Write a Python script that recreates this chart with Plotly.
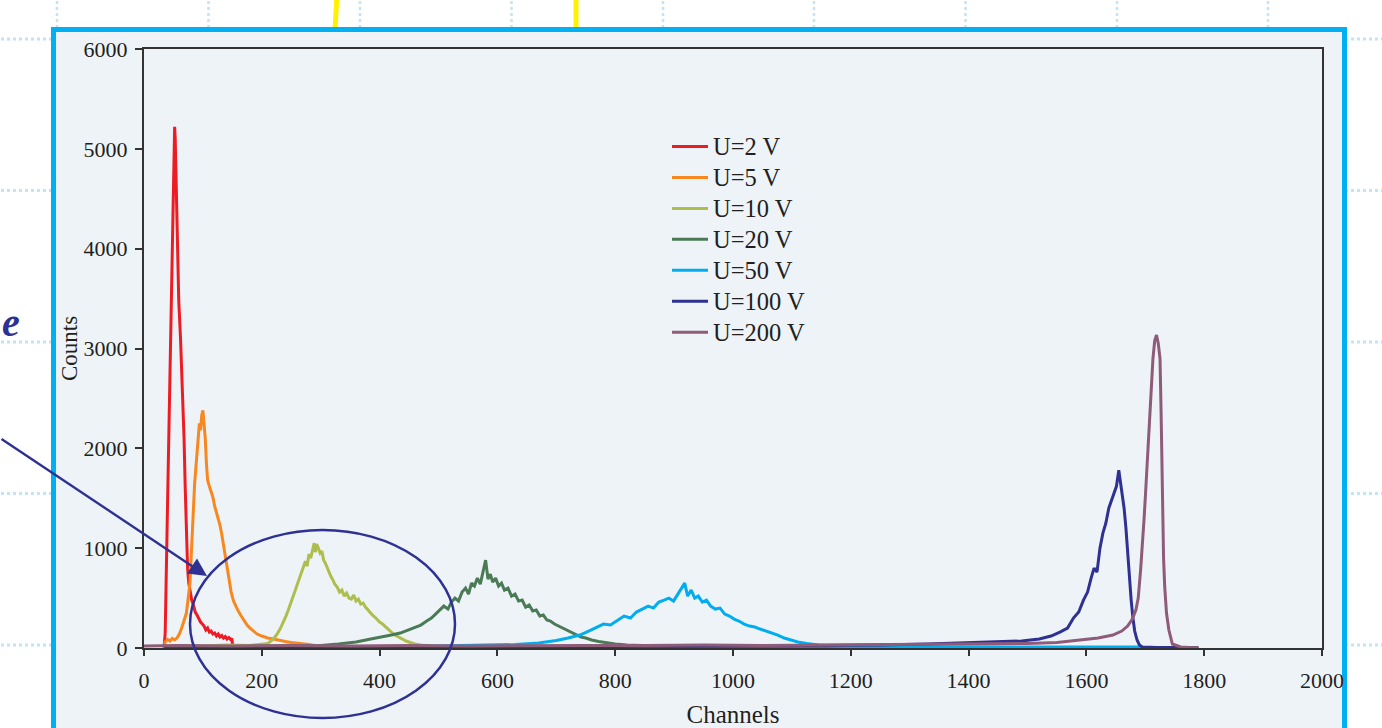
import plotly.graph_objects as go

# ---------------- data ----------------
ch_2 = [34, 36, 40, 44, 48, 50, 52, 53, 55, 57, 59, 62, 64, 66, 68, 70, 72, 74, 76, 78,
        81, 84, 87, 90, 93, 96, 99, 102, 105, 108, 111, 114, 117, 120, 123, 126, 129, 132, 135, 138,
        141, 144, 147, 149, 151, 160, 300, 600, 900, 1200, 1500, 1790]
cnt_2 = [0, 150, 1450, 2750, 4000, 4650, 5220, 5100, 4500, 3950, 3480, 3100, 2790, 2550, 2100, 1600, 1150, 800, 650, 560,
         480, 430, 360, 330, 290, 260, 240, 220, 180, 200, 160, 170, 140, 150, 120, 140, 110, 125, 100, 115,
         90, 105, 85, 95, 10, 5, 4, 3, 3, 2, 2, 0]

ch_5 = [34, 36, 40, 44, 48, 52, 56, 60, 64, 68, 72, 75, 78, 80, 82, 84, 86, 88, 90, 92,
        94, 96, 98, 100, 102, 104, 106, 108, 111, 114, 117, 120, 123, 126, 129, 132, 135, 138, 141, 144,
        148, 152, 156, 160, 165, 170, 175, 180, 186, 192, 200, 210, 220, 230, 240, 250, 260, 270, 280, 290,
        300, 320, 400, 700, 1000, 1300, 1600, 1790]
cnt_5 = [0, 60, 85, 70, 95, 80, 100, 140, 200, 270, 350, 500, 650, 900, 1200, 1450, 1650, 1800, 1950, 2150,
         2250, 2180, 2330, 2380, 2250, 2100, 1850, 1680, 1620, 1570, 1510, 1420, 1360, 1290, 1230, 1140, 1030, 900, 820, 700,
         560, 470, 410, 370, 320, 270, 230, 200, 170, 140, 120, 100, 90, 75, 65, 55, 50, 40, 35, 25,
         15, 8, 5, 4, 3, 3, 2, 0]

ch_10 = [34, 60, 100, 140, 180, 200, 210, 218, 225, 231, 236, 241, 245, 249, 253, 257, 261, 265, 268, 271,
         274, 277, 280, 283, 286, 289, 291, 293, 296, 299, 302, 305, 308, 311, 314, 317, 320, 324, 328, 332,
         336, 340, 344, 348, 352, 356, 360, 364, 368, 372, 376, 380, 384, 388, 392, 396, 400, 405, 410, 415,
         420, 426, 432, 438, 445, 452, 460, 470, 485, 510, 600, 900, 1200, 1500, 1790]
cnt_10 = [15, 25, 20, 30, 25, 35, 45, 80, 130, 190, 250, 320, 380, 440, 520, 580, 650, 720, 760, 830,
          870, 820, 940, 900, 990, 1050, 960, 1040, 1000, 950, 970, 880, 850, 800, 770, 720, 690, 640, 610, 560,
          580, 520, 550, 500, 490, 530, 470, 490, 440, 450, 410, 380, 360, 330, 310, 280, 260, 240, 210, 180,
          160, 130, 110, 90, 70, 55, 40, 30, 20, 10, 8, 5, 4, 3, 0]

ch_20 = [34, 100, 200, 260, 300, 330, 360, 385, 405, 420, 435, 448, 460, 470, 480, 488, 495, 502, 509, 516,
         522, 528, 534, 540, 546, 551, 556, 561, 566, 571, 576, 580, 584, 588, 592, 597, 602, 607, 612, 618,
         624, 630, 636, 642, 648, 654, 660, 666, 672, 678, 684, 690, 697, 704, 711, 718, 726, 734, 742, 750,
         760, 772, 785, 800, 820, 845, 870, 900, 1000, 1200, 1500, 1790]
cnt_20 = [5, 10, 15, 20, 25, 40, 60, 90, 110, 130, 150, 180, 200, 230, 270, 300, 340, 380, 420, 390,
          460, 500, 470, 560, 600, 540, 650, 620, 700, 640, 760, 880, 690, 740, 660, 700, 620, 650, 580, 600,
          520, 540, 470, 480, 410, 430, 370, 380, 320, 330, 280, 270, 240, 220, 200, 180, 150, 130, 110, 100,
          80, 65, 50, 40, 30, 25, 20, 15, 10, 8, 5, 0]

ch_50 = [34, 150, 300, 450, 520, 580, 630, 670, 700, 720, 740, 755, 768, 780, 792, 804, 815, 826, 836, 846,
         856, 865, 874, 883, 891, 899, 906, 913, 918, 923, 929, 935, 941, 948, 955, 962, 970, 978, 986, 994,
         1002, 1010, 1019, 1028, 1037, 1046, 1056, 1066, 1076, 1087, 1098, 1110, 1125, 1145, 1170, 1200, 1300, 1450, 1600, 1690,
         1700]
cnt_50 = [5, 10, 10, 15, 20, 25, 35, 50, 75, 100, 130, 170, 210, 240, 230, 280, 320, 300, 360, 390,
          420, 400, 460, 480, 500, 470, 540, 600, 650, 520, 580, 500, 520, 460, 480, 420, 390, 400, 340, 320,
          290, 270, 240, 220, 210, 190, 170, 150, 130, 100, 80, 60, 45, 30, 20, 15, 12, 10, 10, 10,
          0]

ch_100 = [34, 200, 400, 600, 800, 1000, 1150, 1250, 1330, 1400, 1450, 1490, 1520, 1540, 1555, 1568, 1578, 1587, 1595, 1602,
          1608, 1613, 1618, 1623, 1628, 1633, 1638, 1643, 1647, 1651, 1655, 1658, 1661, 1664, 1667, 1670, 1673, 1676, 1679, 1682,
          1686, 1690, 1695, 1720, 1760, 1790]
cnt_100 = [5, 5, 8, 10, 15, 20, 25, 30, 40, 50, 60, 70, 90, 120, 160, 200, 300, 360, 480, 560,
           700, 800, 760, 1000, 1150, 1250, 1400, 1480, 1560, 1620, 1780, 1650, 1550, 1400, 1210, 950, 700, 480, 300, 170,
           80, 30, 10, 5, 5, 0]

ch_200 = [0, 60, 150, 250, 350, 450, 550, 650, 750, 850, 950, 1050, 1150, 1250, 1350, 1450, 1500, 1550, 1590, 1620,
          1645, 1660, 1670, 1678, 1684, 1688, 1692, 1695, 1698, 1701, 1704, 1707, 1710, 1713, 1716, 1719, 1722, 1725, 1727, 1729,
          1731, 1733, 1736, 1740, 1746, 1760, 1790]
cnt_200 = [20, 25, 20, 25, 20, 25, 20, 25, 25, 25, 30, 25, 30, 30, 35, 40, 45, 55, 80, 100,
           130, 170, 220, 290, 380, 500, 780, 1010, 1300, 1610, 1950, 2300, 2600, 2900, 3080, 3135, 3050, 2900, 2300, 1450,
           900, 610, 350, 180, 40, 10, 0]

series_names = ["U=2 V", "U=5 V", "U=10 V", "U=20 V", "U=50 V", "U=100 V", "U=200 V"]
series_x = [ch_2, ch_5, ch_10, ch_20, ch_50, ch_100, ch_200]
series_y = [cnt_2, cnt_5, cnt_10, cnt_20, cnt_50, cnt_100, cnt_200]
series_colors = ["#ED1C24", "#F7881F", "#AEBE4E", "#4A7A56", "#00AEEF", "#2E3192", "#8E5B79"]

x_ticks = [0, 200, 400, 600, 800, 1000, 1200, 1400, 1600, 1800, 2000]
y_ticks = [0, 1000, 2000, 3000, 4000, 5000, 6000]

# ---------------- layout geometry ----------------
W, H = 1382, 728
L, R, T, B = 144, 60, 49, 80
PW, PH = W - L - R, H - T - B


def px(xp):
    return (xp - L) / PW


def py(yp):
    return (H - B - yp) / PH


SERIF = "Liberation Serif, Times New Roman, serif"
NAVY = "#2E3192"
DOT = "#C3E4F6"
TXT = "#231F20"

fig = go.Figure()
for name, xs, ys, col in zip(series_names, series_x, series_y, series_colors):
    fig.add_trace(go.Scatter(x=xs, y=ys, mode="lines",
                             name='<span style="font-size:24.5px">' + name + '</span>',
                             line=dict(color=col, width=3)))

shapes = []
# dotted background grid of the slide
for yp in [39, 190.5, 342, 493.5, 645]:
    shapes.append(dict(type="line", xref="paper", yref="paper", x0=px(-5), x1=px(W + 5),
                       y0=py(yp), y1=py(yp), line=dict(color=DOT, width=3, dash="dot"), layer="below"))
for xp in [57, 208.5, 360, 511.5, 663, 814, 965.5, 1117, 1268]:
    shapes.append(dict(type="line", xref="paper", yref="paper", x0=px(xp), x1=px(xp),
                       y0=py(-5), y1=py(H + 5), line=dict(color=DOT, width=2.5, dash="dot"), layer="below"))
# yellow strokes above the frame
shapes.append(dict(type="line", xref="paper", yref="paper", x0=px(337), x1=px(335), y0=py(-5), y1=py(30),
                   line=dict(color="#FFF200", width=5), layer="below"))
shapes.append(dict(type="line", xref="paper", yref="paper", x0=px(576), x1=px(576), y0=py(-5), y1=py(30),
                   line=dict(color="#FFF200", width=5), layer="below"))
# blue framed panel
shapes.append(dict(type="rect", xref="paper", yref="paper", x0=px(53.5), x1=px(1344.5), y0=py(29.5), y1=py(770),
                   line=dict(color="#00B0F0", width=5), fillcolor="#EEF3F8", layer="below"))
# ellipse highlight
shapes.append(dict(type="circle", xref="paper", yref="paper", x0=px(190), x1=px(455), y0=py(530), y1=py(718),
                   line=dict(color=NAVY, width=2.5), layer="above"))

annotations = [
    dict(xref="paper", yref="paper", x=px(207), y=py(576), ax=-213, ay=-138, axref="pixel", ayref="pixel",
         text="", showarrow=True, arrowhead=2, arrowsize=1.5, arrowwidth=2.4, arrowcolor=NAVY),
    dict(xref="paper", yref="paper", x=px(0), y=py(322), xanchor="left", yanchor="middle", text="<b><i>e</i></b>",
         showarrow=False, font=dict(family=SERIF, size=40, color=NAVY)),
]

fig.update_layout(
    width=W, height=H,
    margin=dict(l=L, r=R, t=T, b=B, pad=0),
    paper_bgcolor="white", plot_bgcolor="rgba(0,0,0,0)",
    font=dict(family=SERIF, color=TXT),
    shapes=shapes, annotations=annotations,
    showlegend=True,
    legend=dict(x=px(667), y=py(126), xanchor="left", yanchor="top", bgcolor="rgba(0,0,0,0)",
                font=dict(family=SERIF, size=21.5, color=TXT), tracegroupgap=0, itemwidth=36),
    xaxis=dict(range=[0, 2000], tickvals=x_ticks, ticktext=[str(v) for v in x_ticks], automargin=False,
               showgrid=False, zeroline=False, showline=True, linecolor="#333", linewidth=1.5, mirror=True,
               ticks="outside", ticklen=6, tickcolor="#333", tickwidth=1.5, ticklabelstandoff=6,
               tickfont=dict(family=SERIF, size=22, color=TXT),
               title=dict(text="Channels", font=dict(family=SERIF, size=25, color=TXT), standoff=14)),
    yaxis=dict(range=[0, 6000], tickvals=y_ticks, ticktext=[str(v) for v in y_ticks], automargin=False,
               showgrid=False, zeroline=False, showline=True, linecolor="#333", linewidth=2, mirror=True,
               ticks="outside", ticklen=7, tickcolor="#333", tickwidth=1.5, ticklabelstandoff=3,
               tickfont=dict(family=SERIF, size=22, color=TXT),
               title=dict(text="Counts", font=dict(family=SERIF, size=23, color=TXT), standoff=0)),
)

fig.write_html("out.html")
